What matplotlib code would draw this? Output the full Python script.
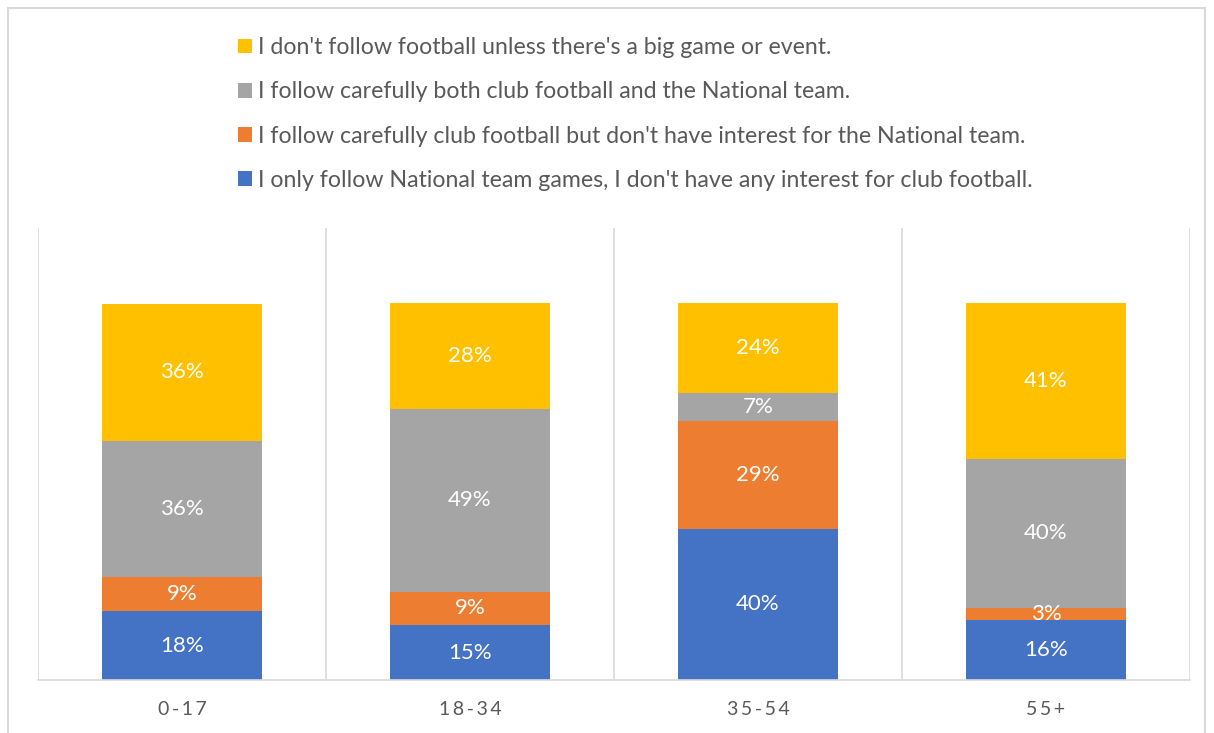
import numpy as np
import matplotlib.pyplot as plt
from matplotlib.patches import Rectangle

plt.rcParams['font.family'] = ['Lato', 'DejaVu Sans']

groups = ['0-17', '18-34', '35-54', '55+']
series = [
    "I only follow National team games, I don't have any interest for club football.",
    "I follow carefully club football but don't have interest for the National team.",
    "I follow carefully both club football and the National team.",
    "I don't follow football unless there's a big game or event.",
]
national_only = [18.3, 14.6, 40.1, 15.9]
club_only = [9.0, 8.8, 28.6, 3.2]
both = [36.2, 48.6, 7.4, 39.6]
big_events = [36.4, 28.2, 23.9, 41.3]
colors = ['#4472c4', '#ed7d31', '#a5a5a5', '#ffc000']

values = [national_only, club_only, both, big_events]

fig = plt.figure(figsize=(12.14, 7.33), dpi=100)
fig.patches.append(Rectangle((8 / 1214, -0.01), 1197 / 1214, 1 - 8 / 733 + 0.01,
                             transform=fig.transFigure, fill=False,
                             edgecolor='#d9d9d9', linewidth=1.5))

ax = fig.add_axes([38 / 1214, 1 - 680 / 733, (1190 - 38) / 1214, (680 - 228) / 733])
x = np.arange(len(groups))
bottom = np.zeros(len(groups))
handles = []
for vals, name, c in zip(values, series, colors):
    bars = ax.bar(x, vals, width=0.556, bottom=bottom, color=c, label=name)
    handles.append(bars)
    for xi, b, v in zip(x, bottom, vals):
        ax.text(xi, b + v / 2, '%d%%' % round(v), ha='center', va='center',
                color='white', fontsize=16)
    bottom += np.array(vals)

ax.set_xlim(-0.5, len(groups) - 0.5)
ax.set_ylim(0, 120)
for xs in np.arange(-0.5, len(groups), 1.0):
    ax.axvline(xs, color='#d9d9d9', linewidth=1.2, zorder=0)
for s in ['left', 'right', 'top']:
    ax.spines[s].set_visible(False)
ax.spines['bottom'].set_color('#d9d9d9')
ax.spines['bottom'].set_linewidth(1.2)
ax.set_yticks([])
ax.set_xticks(x)
ax.set_xticklabels(['\u2009'.join(g) for g in groups], color='#595959', fontsize=14)
ax.tick_params(axis='x', length=0, pad=15)

leg = fig.legend(handles[::-1], series[::-1], loc='upper left',
                 bbox_to_anchor=(229 / 1214, 1 - 28 / 733), frameon=False,
                 fontsize=16.7, handlelength=0.6, handleheight=0.6,
                 handletextpad=0.25, labelspacing=1.0, borderaxespad=0)
for t in leg.get_texts():
    t.set_color('#595959')

fig.savefig('out.png', dpi=100)
